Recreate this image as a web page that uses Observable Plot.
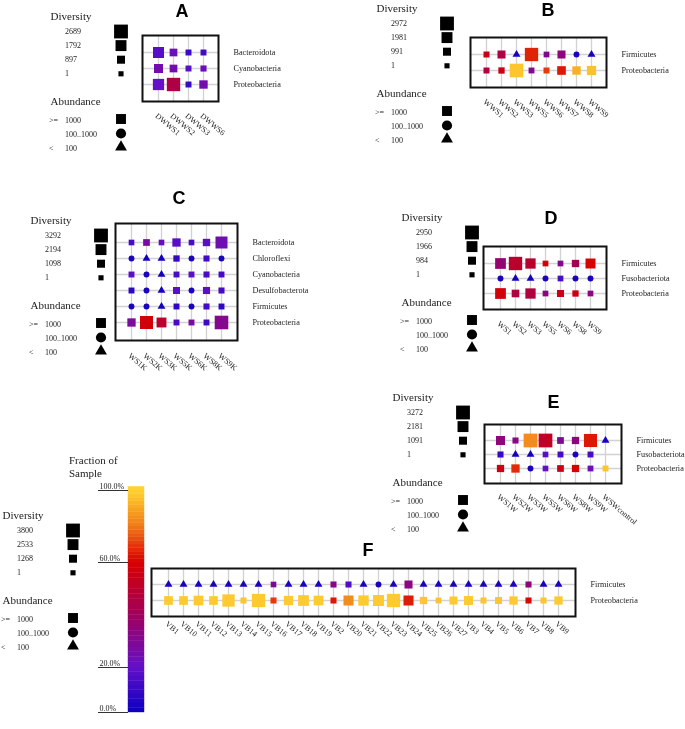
<!DOCTYPE html>
<html><head><meta charset="utf-8">
<script src="https://cdn.jsdelivr.net/npm/d3@7"></script>
<script src="https://cdn.jsdelivr.net/npm/@observablehq/plot@0.6"></script>
<style>
html,body{margin:0;padding:0;background:#fff;}
#fig{position:relative;width:685px;height:729px;overflow:hidden;font-family:"Liberation Serif","Times New Roman",serif;will-change:transform;}
#fig > *{position:absolute;}
.ttl{font:bold 18px "Liberation Sans",Arial,sans-serif;line-height:18px;transform:translateX(-50%);color:#000;}
.cbt{font:11px "Liberation Serif",serif;line-height:13px;color:#222;}
</style></head><body><div id="fig"></div>
<script>
// ---------------- DATA ----------------
const abundClasses = ["high", "mid", "low"];
const abundOps = [">=", "", "<"];
const abundLabels = ["1000", "100..1000", "100"];
const cbTicks = [0, 0.2, 0.6, 1];

// Panel A
const samplesA = ["DWWS1","DWWS2","DWWS3","DWWS6"];
const phylaA = ["Bacteroidota","Cyanobacteria","Proteobacteria"];
const legendA = [2689, 1792, 897, 1];
const abundA = [["high","high","high","high"],["high","high","high","high"],["high","high","high","high"]];
const divA = [[1830, 800, 250, 250],[1200, 800, 250, 300],[1900, 2550, 250, 1000]];
const fracA = [[0.17, 0.22, 0.10, 0.12],[0.25, 0.25, 0.17, 0.22],[0.20, 0.45, 0.10, 0.25]];

// Panel B
const samplesB = ["WWS1","WWS2","WWS3","WWS5","WWS6","WWS7","WWS8","WWS9"];
const phylaB = ["Firmicutes","Proteobacteria"];
const legendB = [2972, 1981, 991, 1];
const abundB = [["high","high","low","high","high","high","mid","low"],["high","high","high","high","high","high","high","high"]];
const divB = [[300, 990, 40, 2800, 200, 990, 40, 30],[300, 400, 2900, 250, 300, 1200, 1100, 1400]];
const fracB = [[0.55, 0.45, 0.03, 0.66, 0.30, 0.34, 0.03, 0.03],[0.47, 0.55, 0.97, 0.30, 0.70, 0.64, 0.92, 0.96]];

// Panel C
const samplesC = ["WS1K","WS2K","WS3K","WS5K","WS6K","WS8K","WS9K"];
const phylaC = ["Bacteroidota","Chloroflexi","Cyanobacteria","Desulfobacterota","Firmicutes","Proteobacteria"];
const legendC = [3292, 2194, 1098, 1];
const abundC = [
  ["high","high","high","high","high","high","high"],
  ["mid","low","low","high","mid","high","mid"],
  ["high","mid","low","high","high","high","high"],
  ["high","mid","low","high","mid","high","high"],
  ["mid","mid","low","high","mid","high","high"],
  ["high","high","high","high","high","high","high"]];
const divC = [
  [200, 600, 200, 1200, 200, 850, 2600],
  [40, 20, 20, 450, 40, 350, 40],
  [300, 40, 20, 300, 300, 350, 300],
  [300, 40, 20, 700, 40, 750, 350],
  [40, 40, 20, 300, 40, 350, 300],
  [1200, 3000, 1800, 300, 300, 300, 3200]];
const fracC = [
  [0.14, 0.27, 0.22, 0.18, 0.14, 0.18, 0.24],
  [0.03, 0.02, 0.02, 0.10, 0.03, 0.13, 0.03],
  [0.18, 0.03, 0.02, 0.14, 0.18, 0.14, 0.13],
  [0.08, 0.03, 0.02, 0.18, 0.03, 0.18, 0.13],
  [0.03, 0.03, 0.02, 0.08, 0.03, 0.13, 0.08],
  [0.28, 0.58, 0.50, 0.14, 0.28, 0.11, 0.31]];

// Panel D
const samplesD = ["WS1","WS2","WS3","WS5","WS6","WS8","WS9"];
const phylaD = ["Firmicutes","Fusobacteriota","Proteobacteria"];
const legendD = [2950, 1966, 984, 1];
const abundD = [
  ["high","high","high","high","high","high","high"],
  ["mid","low","low","mid","high","mid","mid"],
  ["high","high","high","high","high","high","high"]];
const divD = [[1900, 2800, 1750, 200, 200, 750, 1650],[40, 20, 20, 40, 200, 40, 40],[1900, 850, 1750, 200, 650, 400, 200]];
const fracD = [[0.36, 0.50, 0.50, 0.58, 0.32, 0.42, 0.60],[0.03, 0.02, 0.02, 0.03, 0.14, 0.03, 0.03],[0.58, 0.46, 0.46, 0.33, 0.55, 0.55, 0.33]];

// Panel E
const samplesE = ["WS1W","WS2W","WS3W","WS5W","WS6W","WS8W","WS9W","WSWcontrol"];
const phylaE = ["Firmicutes","Fusobacteriota","Proteobacteria"];
const legendE = [3272, 2181, 1091, 1];
const abundE = [
  ["high","high","high","high","high","high","high","low"],
  ["high","low","low","high","high","mid","high",null],
  ["high","high","mid","high","high","high","high","high"]];
const divE = [[1450, 350, 3250, 3250, 600, 800, 3000, 30],[350, 20, 20, 200, 300, 40, 300, null],[800, 1200, 40, 200, 600, 800, 250, 300]];
const fracE = [[0.34, 0.32, 0.84, 0.52, 0.30, 0.34, 0.64, 0.03],[0.10, 0.02, 0.02, 0.18, 0.14, 0.03, 0.14, null],[0.56, 0.67, 0.03, 0.20, 0.55, 0.60, 0.22, 0.97]];

// Panel F
const samplesF = ["VB1","VB10","VB11","VB12","VB13","VB14","VB15","VB16","VB17","VB18","VB19","VB2","VB20","VB21","VB22","VB23","VB24","VB25","VB26","VB27","VB3","VB4","VB5","VB6","VB7","VB8","VB9"];
const phylaF = ["Firmicutes","Proteobacteria"];
const legendF = [3800, 2533, 1268, 1];
const abundF = [
  ["low","low","low","low","low","low","low","high","low","low","low","high","high","low","mid","low","high","low","low","low","low","low","low","low","high","low","low"],
  ["high","high","high","high","high","high","high","high","high","high","high","high","high","high","high","high","high","high","high","high","high","high","high","high","high","high","high"]];
const divF = [
  [30,30,30,30,30,30,30,230,30,30,30,400,400,30,40,30,1270,30,30,30,30,30,30,30,400,30,30],
  [1560,1560,2000,1560,3150,400,3580,400,1830,2440,2000,400,2140,2280,2580,3580,2140,960,260,1270,1700,400,830,1400,400,400,1400]];
const fracF = [
  [0.03,0.03,0.03,0.03,0.03,0.03,0.03,0.30,0.03,0.03,0.03,0.32,0.15,0.03,0.03,0.03,0.33,0.03,0.03,0.03,0.03,0.03,0.03,0.03,0.35,0.03,0.03],
  [0.98,0.98,0.98,0.98,0.98,0.97,0.98,0.70,0.98,0.98,0.98,0.64,0.84,0.98,0.98,0.98,0.65,0.97,0.96,0.98,0.98,0.97,0.97,0.98,0.61,0.97,0.98]];

// ---------------- STYLE / LAYOUT ----------------
const FONT = "'Liberation Serif','Times New Roman',serif";
const colorOpts = {type: "linear", clamp: true, interpolate: "rgb",
  domain: [0, 0.2, 0.4, 0.6, 0.7, 0.8, 0.9, 1],
  range: ["#0c00c0", "#6410c8", "#a0005c", "#d80000", "#e63a0c", "#f07a18", "#f8a822", "#ffd233"]};
const symbolOpts = {domain: abundClasses, range: ["square", "circle", "triangle"]};
const R_RANGE = [2.9, 7.8];

const panels = [
  {t: "A", samples: samplesA, phyla: phylaA, legend: legendA, abund: abundA, div: divA, frac: fracA,
   box: {x: 142, y: 35, w: 76, h: 66}, pad: 11, leg: {x: 50, y: 16}, title: {x: 182, y: 10.5}},
  {t: "B", samples: samplesB, phyla: phylaB, legend: legendB, abund: abundB, div: divB, frac: fracB,
   box: {x: 470, y: 37, w: 136, h: 50}, pad: 11, leg: {x: 376, y: 8}, title: {x: 548, y: 9.5}},
  {t: "C", samples: samplesC, phyla: phylaC, legend: legendC, abund: abundC, div: divC, frac: fracC,
   box: {x: 115, y: 223, w: 122, h: 117}, pad: 12, leg: {x: 30, y: 220}, title: {x: 179, y: 198}},
  {t: "D", samples: samplesD, phyla: phylaD, legend: legendD, abund: abundD, div: divD, frac: fracD,
   box: {x: 483, y: 246, w: 123, h: 63}, pad: 11, leg: {x: 401, y: 217}, title: {x: 551, y: 218}},
  {t: "E", samples: samplesE, phyla: phylaE, legend: legendE, abund: abundE, div: divE, frac: fracE,
   box: {x: 484, y: 424, w: 137, h: 59}, pad: 10, leg: {x: 392, y: 397}, title: {x: 553.5, y: 402}},
  {t: "F", samples: samplesF, phyla: phylaF, legend: legendF, abund: abundF, div: divF, frac: fracF,
   box: {x: 151, y: 568, w: 424, h: 48}, pad: 4, leg: {x: 2, y: 515}, title: {x: 368, y: 550}}
];

const fig = document.getElementById("fig");
function place(el, x, y) { el.style.position = "absolute"; el.style.left = x + "px"; el.style.top = y + "px"; fig.appendChild(el); }

function gridPlot(P) {
  const data = [];
  P.phyla.forEach((ph, i) => P.samples.forEach((s, j) => {
    const a = P.abund[i][j];
    if (!a) return;
    data.push({sample: s, phylum: ph, div: P.div[i][j], frac: P.frac[i][j], abund: a});
  }));
  const m = {t: 2, l: 2, r: 110, b: 80};
  const svg = Plot.plot({
    width: P.box.w + m.l + m.r, height: P.box.h + m.t + m.b,
    marginTop: m.t, marginLeft: m.l, marginRight: m.r, marginBottom: m.b,
    style: {background: "transparent", fontFamily: FONT, fontSize: "8px", color: "#222", overflow: "visible"},
    x: {type: "point", domain: P.samples, padding: 1},
    y: {type: "point", domain: P.phyla, padding: 1},
    r: {type: "linear", domain: [1, P.legend[0]], range: R_RANGE},
    color: colorOpts,
    symbol: symbolOpts,
    marks: [
      Plot.gridX({stroke: "#d2d2d2", strokeOpacity: 1, strokeWidth: 1.3}),
      Plot.gridY({stroke: "#d2d2d2", strokeOpacity: 1, strokeWidth: 1.3}),
      Plot.dot(data, {x: "sample", y: "phylum", r: "div", fill: "frac", symbol: "abund"}),
      Plot.frame({stroke: "#111", strokeWidth: 2}),
      Plot.axisY({anchor: "right", tickSize: 0, tickPadding: 15, label: null, fontSize: 8.2, fill: "#222"}),
      Plot.axisX({anchor: "bottom", tickSize: 0, tickPadding: P.pad, tickRotate: 40, textAnchor: "start", lineAnchor: "top", label: null, fontSize: 8, fill: "#222"})
    ]
  });
  place(svg, P.box.x - m.l, P.box.y - m.t);
}

function legendPlot(P) {
  const ox = 12, oy = 12;
  const divRows = P.legend.map((v, i) => ({v, y: oy + 15 + 14.1 * i}));
  const abRows = abundClasses.map((c, i) => ({cls: c, op: abundOps[i], lab: abundLabels[i], y: oy + 104 + 14 * i}));
  const svg = Plot.plot({
    width: 100, height: 160, margin: 0,
    style: {background: "transparent", fontFamily: FONT, color: "#222", overflow: "visible"},
    x: {type: "identity", axis: null}, y: {type: "identity", axis: null},
    r: {type: "linear", domain: [1, P.legend[0]], range: R_RANGE},
    marks: [
      Plot.text(["Diversity"], {x: ox, y: oy, text: d => d, textAnchor: "start", fontSize: 11, fill: "#222"}),
      Plot.text(divRows, {x: ox + 14.5, y: "y", text: d => String(d.v), textAnchor: "start", fontSize: 8, fill: "#222"}),
      Plot.dot(divRows, {x: ox + 70.5, y: "y", r: "v", symbol: "square", fill: "black"}),
      Plot.text(["Abundance"], {x: ox, y: oy + 85, text: d => d, textAnchor: "start", fontSize: 11, fill: "#222"}),
      Plot.text(abRows, {x: ox - 1.5, y: "y", text: "op", textAnchor: "start", fontSize: 8, fill: "#222"}),
      Plot.text(abRows, {x: ox + 14.5, y: "y", text: "lab", textAnchor: "start", fontSize: 8, fill: "#222"}),
      Plot.dot(abRows.filter(d => d.cls === "high"), {x: ox + 70.5, y: d => d.y - 1.5, r: 5.6, symbol: "square", fill: "black"}),
      Plot.dot(abRows.filter(d => d.cls === "mid"), {x: ox + 70.5, y: d => d.y - 1, r: 5.1, symbol: "circle", fill: "black"}),
      Plot.dot(abRows.filter(d => d.cls === "low"), {x: ox + 70.5, y: d => d.y - 1.5, r: 4.4, symbol: "triangle", fill: "black"})
    ]
  });
  place(svg, P.leg.x - ox, P.leg.y - oy);
}

function titleDiv(P) {
  const d = document.createElement("div");
  d.className = "ttl";
  d.textContent = P.t;
  d.style.left = P.title.x + "px";
  d.style.top = (P.title.y - 8.75) + "px";
  fig.appendChild(d);
}

panels.forEach(P => { gridPlot(P); legendPlot(P); titleDiv(P); });

// colour bar
const cbHead = document.createElement("div");
cbHead.className = "cbt";
cbHead.innerHTML = "Fraction of<br>Sample";
place(cbHead, 69, 454);

const cbStep = 0.02;
const cbBands = d3.range(0, 1 + cbStep / 2, cbStep);
const cb = Plot.plot({
  width: 100, height: 289, margin: 0,
  style: {background: "transparent", fontFamily: FONT, color: "#222", overflow: "visible"},
  x: {type: "identity", axis: null},
  y: {type: "linear", domain: [0, 0.2, 0.6, 1], range: [272, 227, 122, 50], axis: null},
  color: colorOpts,
  marks: [
    Plot.rect(cbBands, {x1: 68, x2: 84, y1: d => d, y2: d => d + cbStep, fill: d => d + cbStep / 2, stroke: d => d + cbStep / 2, strokeWidth: 0.4}),
    Plot.ruleY(cbTicks, {y: d => d, x1: 38, x2: 68, stroke: "#333", strokeWidth: 1}),
    Plot.text(cbTicks, {y: d => d, x: 39, dy: -4.5, text: d => d3.format(".1%")(d), textAnchor: "start", fontSize: 8, fill: "#222"})
  ]
});
place(cb, 60, 440);
</script></body></html>
